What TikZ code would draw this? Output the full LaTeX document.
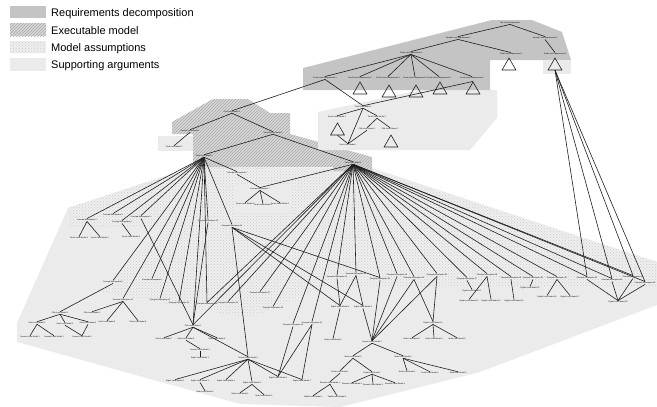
\documentclass[tikz,border=0pt]{standalone}
\usepackage{fontspec}
\setmainfont{Liberation Sans}
\usetikzlibrary{patterns,shapes.geometric}
\definecolor{reqgray}{HTML}{C4C4C4}
\definecolor{hatchbase}{HTML}{D8D8D8}
\definecolor{hatchline}{HTML}{A8A8A8}
\definecolor{asmbase}{HTML}{EFEFEF}
\definecolor{asmdot}{HTML}{CACACA}
\definecolor{supgray}{HTML}{EBEBEB}
\definecolor{edgecol}{HTML}{1E1E1E}
\begin{document}
\begin{tikzpicture}[x=1pt,y=-1pt,
  lbl/.style={font=\fontsize{1.9}{2.2}\selectfont, inner sep=0.35pt},
  ln/.style={line width=0.6pt, draw=edgecol},
  tri/.style={draw=edgecol, line width=0.6pt, regular polygon, regular polygon sides=3, minimum size=16pt, inner sep=0pt},
  legtxt/.style={font=\fontsize{11}{13}\selectfont, anchor=base west, inner sep=0pt},
  reqfill/.style={fill=reqgray},
  exefill/.style={fill=hatchbase, postaction={pattern=north east lines, pattern color=hatchline}},
  asmfill/.style={fill=asmbase, postaction={pattern=crosshatch dots, pattern color=asmdot}},
  supfill/.style={fill=supgray}]
\useasboundingbox (0,0) rectangle (657,407);

% ---------------- regions ----------------
\path[supfill] (193,167) -- (68,208) -- (17,323) -- (17,342) -- (240,404) -- (340,407)
  -- (480,372) -- (657,305) -- (657,262) -- (372,168) -- cycle;
\path[asmfill] (193,167) -- (68,208) -- (68,227) -- (165,227) -- (100,292) -- (250,318)
  -- (325,286) -- (657,286) -- (657,262) -- (372,170) -- cycle;
\path[supfill] (233,184) rectangle (291,212);
\path[supfill] (158,136) rectangle (194,151);
\path[exefill] (172,122) -- (213,99) -- (248,99) -- (270,113) -- (290,113) -- (290,134)
  -- (372,157) -- (372,171) -- (333,171) -- (333,167) -- (193,167) -- (193,134) -- (172,134) -- cycle;
\path[supfill] (318,112) -- (420,90) -- (497,90) -- (497,118) -- (470,150) -- (318,150) -- cycle;
\path[reqfill] (303,68) -- (492,20) -- (532,20) -- (562,32) -- (571,60) -- (490,60) -- (490,90) -- (303,90) -- cycle;
\path[supfill] (543,60) rectangle (571,74);

% ---------------- legend ----------------
\path[reqfill] (10,6) rectangle (46,18);
\path[exefill] (10,23) rectangle (46,36);
\path[asmfill] (10,41) rectangle (46,53);
\path[supfill] (10,58) rectangle (46,71);
\node[legtxt] (leg1) at (51,16.5) {Requirements decomposition};
\node[legtxt] (leg2) at (51,34) {Executable model};
\node[legtxt] (leg3) at (51,51.5) {Model assumptions};
\node[legtxt] (leg4) at (51,68.5) {Supporting arguments};

% ---------------- nodes ----------------
\foreach \n/\x/\y/\t in {
  rT/510/23/Top Level Requirement,
  r21/458/38/Second Level Requirement 1, r22/545/38/Second Level Requirement 2,
  r31/411/53/Third Level Requirement 1, r32/511/54/Third Level Requirement 2, r33/555/54/Third Level Requirement 3,
  r41/325/78/Fourth Level Requirement 1, r42/360/78/Fourth Level Requirement 2, r43/388/78/Fourth Level Requirement 3,
  r44/415/78/Fourth Level Requirement 4, r45/439/78/Fourth Level Requirement 5, r46/472/78/Fourth Level Requirement 6,
  s1/363/107/Third Level Model 1, s21/337/117/Fourth Level Model 1, s22/377/117/Fourth Level Model 2,
  s31/367/129/Fifth Level Model 1, s32/390/129/Fifth Level Model 2, s4/348/145/Sixth Level Model 1,
  m1/232/112/First Level Model 1, m21/190/131/Second Level Model 1, m22/273/133/Second Level Model 2,
  m3/174/147/Third Level Model 2, hub1/204/156/Third Level Model 3, hub2/353/163/Third Level Model 4}
  \node[lbl] (\n) at (\x,\y) {\t};

\foreach \n/\x/\y/\t in {
  L1/87/220/Principal Assumption 2, L2/113/215/Principal Assumption 3, L3/122/222/Principal Assumption 4,
  L4/141/217/Principal Assumption 5, L5/237/173/Principal Assumption 6, L6/260/189/Principal Assumption 7,
  L6a/245/204/Fourth Level Model 3, L6b/263/205/Fourth Level Model 4, L6c/280/204/Fourth Level Model 5,
  C1/79/238/Fourth Level Model 6, C2/100/238/Fourth Level Model 7, C3/131/237/Fourth Level Model 8,
  A1/113/282/Principal Assumption 8, A2/152/280/Principal Assumption 9, A3/123/300/Principal Assumption 10,
  A4/160/300/Principal Assumption 11, A5/179/303/Principal Assumption 12, A6/208/221/Principal Assumption 13,
  A7/232/226/Principal Assumption 14, A8/207/304/Principal Assumption 15, A9/228/303/Principal Assumption 16,
  F1/60/313/Fifth Level Model 3, F2/92/313/Fifth Level Model 4,
  F1a/37/323/Sixth Level Model 2, F1b/65/324/Sixth Level Model 3, F1c/88/323/Sixth Level Model 4,
  G1/107/322/Sixth Level Model 5, G2/138/322/Sixth Level Model 6,
  G3/30/337/Seventh Level Model 1, G4/54/337/Seventh Level Model 2, G5/82/337/Seventh Level Model 3,
  S1/193/326/Fifth Level Model 5, Q1/164/339/Sixth Level Model 7, Q2/186/339/Sixth Level Model 8,
  Q3/217/339/Sixth Level Model 9, Q4/200/350/Seventh Level Model 4, Q5/200/358/Eighth Level Model 1,
  S2/248/358/Seventh Level Model 5,
  K1/175/381/Eighth Level Model 2, K2/200/381/Eighth Level Model 3, K3/226/381/Eighth Level Model 4,
  K4/252/383/Eighth Level Model 5, K5/278/378/Eighth Level Model 6, K6/302/381/Eighth Level Model 7,
  K7/240/394/Ninth Level Model 1, K8/264/396/Ninth Level Model 2, K9/205/392/Ninth Level Model 3,
  P20/260/293/Principal Assumption 17, P21/273/308/Principal Assumption 18,
  P22/293/325/Principal Assumption 19, P23/312/323/Principal Assumption 20}
  \node[lbl] (\n) at (\x,\y) {\t};

\foreach \n/\x/\y/\t in {
  R1/337/277/Principal Assumption 21, R2/356/274/Principal Assumption 22, R3/380/279/Principal Assumption 23,
  R4/397/275/Principal Assumption 24, R5/414/278/Principal Assumption 25, R6/437/275/Principal Assumption 26,
  R7/467/279/Principal Assumption 27, R8/487/275/Principal Assumption 28, R9/511/278/Principal Assumption 29,
  R10/533/278/Principal Assumption 30, R11/557/278/Principal Assumption 31, R12/587/278/Principal Assumption 32,
  R13/612/280/Principal Assumption 33, R14/633/277/Principal Assumption 34, R15/645/283/Principal Assumption 35,
  E1/340/307/Eighth Level Model 8, E2/363/307/Eighth Level Model 9, E3/333/340/Ninth Level Model 4,
  S3/372/342/Seventh Level Model 6,
  N1/353/357/Ninth Level Model 5, N2/403/357/Ninth Level Model 6,
  N3/340/372/Tenth Level Model 1, N4/372/373/Tenth Level Model 2,
  N5/330/383/Eleventh Level Model 1, N6/352/384/Eleventh Level Model 2, N7/373/385/Eleventh Level Model 3,
  N8/395/384/Eleventh Level Model 4, N9/313/397/Twelfth Level Model 1, N10/337/397/Twelfth Level Model 2,
  N11/407/372/Tenth Level Model 3, N12/430/373/Tenth Level Model 4, N13/458/373/Tenth Level Model 5,
  E7/433/323/Eighth Level Model 10, E7a/412/339/Ninth Level Model 7, E7b/434/339/Ninth Level Model 8,
  E7c/457/339/Ninth Level Model 9,
  U1/472/291/Eighth Level Model 11, U2/469/301/Eighth Level Model 12, U3/491/301/Eighth Level Model 13,
  U4/514/301/Eighth Level Model 14, U5/530/288/Eighth Level Model 15, U6/547/297/Eighth Level Model 16,
  U7/570/297/Eighth Level Model 17, T/618/302/Eighth Level Model 18}
  \node[lbl] (\n) at (\x,\y) {\t};

% triangles (undeveloped elements)
\foreach \n/\x/\y in {t32/509/66, t33/555/66, t42/360/90, t43/389/93, t44/416/93, t45/440/90,
  t46/473/90, ts21/337.5/131, ts32/391/143}
  \node[tri] (\n) at (\x,\y) {};

% ---------------- connectors ----------------
\foreach \a/\b in {
  rT/r21, rT/r22, r21/r31, r21/r32, r22/r33,
  r31/r41, r31/r42, r31/r43, r31/r44, r31/r45, r31/r46,
  r41/m1, r41/s1,
  s1/s21, s1/s22, s1/s4, ts21/s4, s22/s31, s22/s32,
  m1/m21, m1/m22, m21/m3, m22/hub1, m22/hub2,
  hub1/L1, hub1/L2, hub1/L3, hub1/L4, hub1/L5, hub1/A1, hub1/A2, hub1/A3, hub1/A4,
  hub1/A5, hub1/A6, hub1/A7, hub1/A8, hub1/S1,
  L1/C1, L1/C2, L3/C3, L4/S1, L5/L6, L6/L6a, L6/L6b, L6/L6c,
  A1/F1, A3/F2, A3/G1, A3/G2, F1/F1a, F1/F1b, F1/F1c, F1a/G3, F1a/G4, F1b/G5, F1c/G5,
  A6/S1, A7/E1, A7/E2, A7/R3, A7/S2,
  S1/Q1, S1/Q2, S1/Q3, Q2/Q4, Q4/Q5, S1/S2,
  S2/K1, S2/K2, S2/K3, S2/K4, S2/K5, S2/K6, K2/K9, K4/K7, K4/K8,
  hub2/L6, hub2/S1, hub2/A8, hub2/A9, hub2/P20, hub2/P21, hub2/P22, hub2/P23,
  P22/K5, P23/K5, P23/K6,
  R1/E1, R2/E1, R2/E2, E1/E3, R3/S3, R4/S3, R5/S3, R6/S3, E2/S3,
  S3/N1, S3/N2, N1/N3, N1/N4, N3/N5, N4/N6, N4/N7, N4/N8, N5/N9, N5/N10,
  N2/N11, N2/N12, N2/N13,
  R5/E7, R6/E7, E7/E7a, E7/E7b, E7/E7c,
  R7/U1, R8/U2, R8/U3, R9/U4, R10/U5, R11/U6, R11/U7,
  R12/T, R13/T, R14/T, R15/T,
  t33/R12, t33/R13, t33/R14, t33/R15}
  \draw[ln] (\a.south) -- (\b.north);

\foreach \i in {1,...,15}
  \draw[ln] (hub2.south) -- (R\i.north);

\draw[ln] (s1.north) -- (t46.north);
\draw[ln] (s4.north) -- (s31.south);
\end{tikzpicture}
\end{document}
